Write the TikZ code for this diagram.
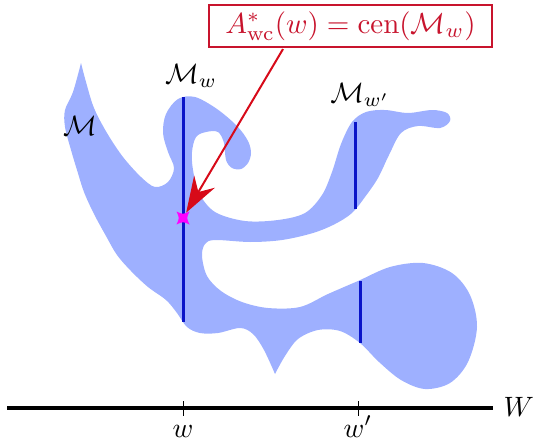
\documentclass[tikz,border=0pt]{standalone}
\usetikzlibrary{arrows.meta}
\definecolor{blobfill}{RGB}{158,176,255}
\definecolor{lineblue}{RGB}{10,20,200}
\definecolor{arrred}{RGB}{215,10,25}
\definecolor{boxred}{RGB}{200,20,45}
\definecolor{starcol}{RGB}{255,0,255}
\tikzset{
  fiber/.style={draw=lineblue, line width=3pt},
  lbl/.style={inner sep=0pt, transform shape, scale=2.8},
  tick/.style={draw=black, line width=0.9pt},
}
\begin{document}
\begin{tikzpicture}[x=1pt,y=-1pt]
\useasboundingbox (0,0) rectangle (536,442);
% the set M
\fill[blobfill] plot[smooth, tension=0.55] coordinates {
 (81,63) (86,82) (94,108) (107,133) (123,157) (141,177) (155,187) (168,182)
 (174,168) (168,152) (163,133) (166,114) (178,99) (195,97)
 (217,109) (237,126) (248,141) (251,153) (248,163) (241,169) (232,168)
 (226,160) (224,143) (218,132) (206,132) (196,137) (192,152) (193,170)
 (199,193) (215,212)
 (245,221) (278,220) (305,213) (322,195) (332,172) (341,144) (352,122)
 (366,112) (385,110) (408,113) (432,110) (447,113) (450,121) (440,128)
 (418,126) (401,133) (389,155) (378,178) (365,197) (352,213)
 (335,224) (313,233) (282,240) (250,242) (215,240) (205,244) (202,256)
 (207,276) (221,291) (242,302) (268,308) (300,307) (328,294) (358,281)
 (390,267) (423,263) (452,273) (470,295) (477,327) (468,362) (450,383)
 (425,389) (401,380) (379,362) (360,343) (340,331) (318,330)
 (298,339) (285,356) (275,374)}
 -- plot[smooth, tension=0.55] coordinates {
 (275,374) (264,350) (253,334) (240,328) (218,333) (200,333) (187,327)
 (177,313) (166,300) (148,287) (131,271) (117,255) (106,236) (94,214)
 (84,192) (77,170) (71,150) (65,127) (65,110) (73,92) (81,63)}
 -- cycle;
% fibers
\coordinate (fa1) at (183,97);  \coordinate (fa2) at (183,322);
\coordinate (fb1) at (355,122); \coordinate (fb2) at (355,209);
\coordinate (fc1) at (360,281); \coordinate (fc2) at (360,343);
\draw[fiber] (fa1) -- (fa2);
\draw[fiber] (fb1) -- (fb2);
\draw[fiber] (fc1) -- (fc2);
% labels
\node[lbl] (mlab) at (80,126) {$\mathcal{M}$};
\node[lbl] (mw) at (191,76) {$\mathcal{M}_w$};
\node[lbl] (mwp) at (360,95) {$\mathcal{M}_{w'}$};
% axis
\coordinate (ax1) at (7,408);
\coordinate (ax2) at (493,408);
\draw[line width=4.5pt] (ax1) -- (ax2);
\coordinate (t1a) at (183,401); \coordinate (t1b) at (183,416);
\coordinate (t2a) at (358,401); \coordinate (t2b) at (358,416);
\draw[tick] (t1a) -- (t1b);
\draw[tick] (t2a) -- (t2b);
\node[lbl, anchor=base] (wl) at (183,437) {$w$};
\node[lbl, anchor=base] (wpl) at (358,437) {$w'$};
\node[lbl, anchor=west] (Wl) at (503,407) {$W$};
% point and label
\node[circle, inner sep=0pt, minimum size=12pt] (star) at (183,218) {};
\node[draw=boxred, fill=white, line width=1.4pt, text=boxred,
  transform shape, scale=2.9,
  minimum width=97.6pt, minimum height=14.5pt, inner sep=0pt] (lab) at (350.5,26)
  {$A^*_{\mathrm{wc}}(w)=\mathrm{cen}(\mathcal{M}_w)$};
\draw[arrred, line width=2pt, -{Stealth[length=36pt,width=24pt,inset=12pt]}]
  ([xshift=-67.5pt]lab.south) -- (star);
\fill[starcol] (176.5,211.5) .. controls (183,214.5) .. (189.5,211.5)
  .. controls (186.5,218) .. (189.5,224.5)
  .. controls (183,221.5) .. (176.5,224.5)
  .. controls (179.5,218) .. (176.5,211.5) -- cycle;
\end{tikzpicture}
\end{document}
